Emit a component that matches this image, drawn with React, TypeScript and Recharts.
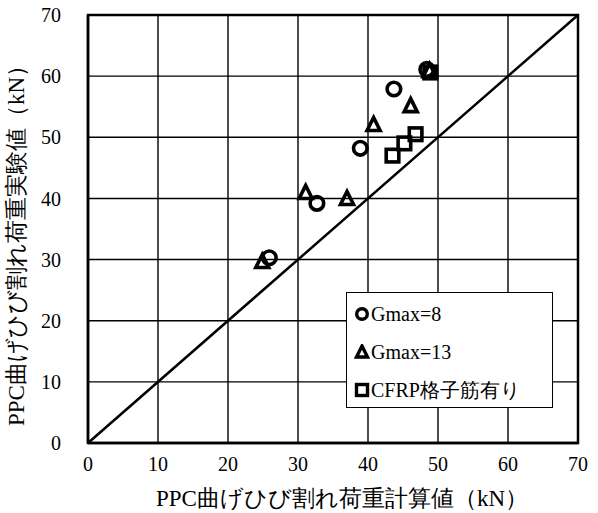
import React from "react";
import {
  ScatterChart,
  Scatter,
  XAxis,
  YAxis,
  CartesianGrid,
  ReferenceLine,
  ReferenceArea,
} from "recharts";

const gmax8 = [
  { x: 25.9, y: 30.3 },
  { x: 32.7, y: 39.2 },
  { x: 38.9, y: 48.2 },
  { x: 43.7, y: 57.9 },
  { x: 48.4, y: 61.1 },
];
const gmax13 = [
  { x: 24.9, y: 29.6 },
  { x: 31.1, y: 40.9 },
  { x: 37.0, y: 39.9 },
  { x: 40.8, y: 52.0 },
  { x: 46.1, y: 55.1 },
  { x: 48.8, y: 60.8 },
];
const cfrp = [
  { x: 43.5, y: 47.0 },
  { x: 45.2, y: 49.0 },
  { x: 46.8, y: 50.5 },
  { x: 48.9, y: 60.6 },
];
const ticks = [0, 10, 20, 30, 40, 50, 60, 70];
const diagonal = [
  { x: 0, y: 0 },
  { x: 70, y: 70 },
];
const seriesNames = ["Gmax=8", "Gmax=13", "CFRP格子筋有り"];
const xTitle = "PPC曲げひび割れ荷重計算値（kN）";
const yTitle = "PPC曲げひび割れ荷重実験値（kN）";

const FONT = "'Liberation Serif', 'Times New Roman', 'DejaVu Serif', serif";

const CircleShape = (props: any) => {
  const { cx, cy } = props;
  if (cx == null || cy == null) return null;
  return <circle cx={cx} cy={cy} r={6.8} fill="none" stroke="#000" strokeWidth={3.6} />;
};
const TriangleShape = (props: any) => {
  const { cx, cy } = props;
  if (cx == null || cy == null) return null;
  const s = 6.5;
  const pts = `${cx},${cy - s - 1} ${cx - s},${cy + s - 1} ${cx + s},${cy + s - 1}`;
  return <polygon points={pts} fill="none" stroke="#000" strokeWidth={3.6} strokeLinejoin="miter" />;
};
const SquareShape = (props: any) => {
  const { cx, cy } = props;
  if (cx == null || cy == null) return null;
  const s = 6.3;
  return <rect x={cx - s} y={cy - s} width={2 * s} height={2 * s} fill="none" stroke="#000" strokeWidth={3.6} />;
};

const XTitle = (props: any) => {
  const vb = props.viewBox || {};
  return (
    <text
      x={vb.x + vb.width / 2 + 9}
      y={vb.y + vb.height - 7}
      textAnchor="middle"
      fill="#000"
      fontSize={23}
      fontFamily={FONT}
    >
      {xTitle}
    </text>
  );
};
const YTitle = (props: any) => {
  const vb = props.viewBox || {};
  const cx = 16;
  const cy = vb.y + vb.height / 2 + 11;
  return (
    <text
      x={cx}
      y={cy}
      transform={`rotate(-90, ${cx}, ${cy})`}
      textAnchor="middle"
      dominantBaseline="central"
      fill="#000"
      fontSize={23}
      fontFamily={FONT}
    >
      {yTitle}
    </text>
  );
};

const LegendBox = () => {
  const icons = [
    <circle cx={8} cy={8} r={5.3} fill="none" stroke="#000" strokeWidth={3.4} />,
    <polygon points="8,2 2.5,13 13.5,13" fill="none" stroke="#000" strokeWidth={3.4} />,
    <rect x={2.5} y={2.5} width={11} height={11} fill="none" stroke="#000" strokeWidth={3.4} />,
  ];
  return (
    <div
      style={{
        position: "absolute",
        left: 346,
        top: 292,
        width: 207,
        height: 116,
        background: "#fff",
        border: "1px solid #000",
        boxSizing: "border-box",
        paddingLeft: 7,
        paddingTop: 2,
        fontFamily: FONT,
        fontSize: 20,
        color: "#000",
      }}
    >
      {seriesNames.map((n, i) => (
        <div key={n} style={{ display: "flex", alignItems: "center", height: 38 }}>
          <svg width={16} height={16} style={{ marginRight: 1, flex: "none" }}>
            {icons[i]}
          </svg>
          <span style={{ whiteSpace: "nowrap" }}>{n}</span>
        </div>
      ))}
    </div>
  );
};

export default function App() {
  return (
    <div style={{ position: "absolute", left: 0, top: 0, width: 598, height: 513, background: "#fff" }}>
      <ScatterChart
        width={598}
        height={513}
        margin={{ top: 15, right: 20, left: 28, bottom: 0 }}
      >
        <CartesianGrid stroke="#000" strokeWidth={1.4} />
        <XAxis
          type="number"
          dataKey="x"
          domain={[0, 70]}
          ticks={ticks}
          interval={0}
          tickLine={false}
          tickSize={0}
          tickMargin={14}
          axisLine={{ stroke: "#000", strokeWidth: 2.5 }}
          tick={{ fill: "#000", fontSize: 20, fontFamily: FONT }}
          height={70}
          label={<XTitle />}
        />
        <YAxis
          type="number"
          dataKey="y"
          domain={[0, 70]}
          ticks={ticks}
          interval={0}
          tickLine={false}
          tickSize={0}
          tickMargin={27}
          axisLine={{ stroke: "#000", strokeWidth: 2.5 }}
          tick={{ fill: "#000", fontSize: 20, fontFamily: FONT }}
          width={60}
          label={<YTitle />}
        />
        <ReferenceLine
          segment={diagonal}
          stroke="#000"
          strokeWidth={2.5}
          ifOverflow="visible"
        />
        <Scatter name={seriesNames[0]} data={gmax8} shape={CircleShape} isAnimationActive={false} />
        <Scatter name={seriesNames[1]} data={gmax13} shape={TriangleShape} isAnimationActive={false} />
        <Scatter name={seriesNames[2]} data={cfrp} shape={SquareShape} isAnimationActive={false} />
        <ReferenceArea
          x1={0}
          x2={70}
          y1={0}
          y2={70}
          fill="none"
          stroke="#000"
          strokeWidth={2.5}
          ifOverflow="visible"
        />
      </ScatterChart>
      <LegendBox />
    </div>
  );
}
